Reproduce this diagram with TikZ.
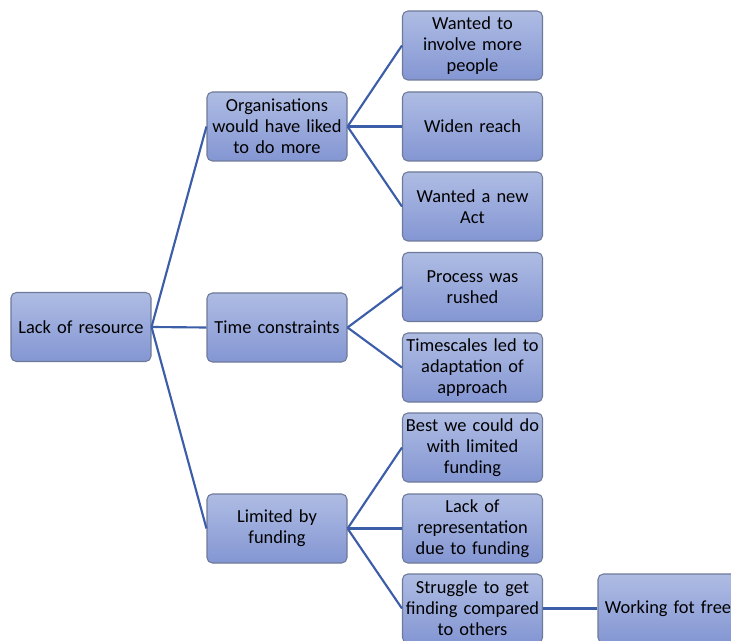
\documentclass[tikz,border=0pt]{standalone}
\usepackage{fontspec}
\setmainfont{Carlito}
\usepackage{xcolor}
\definecolor{boxtop}{HTML}{AEBCE3}
\definecolor{boxbot}{HTML}{8496D3}
\definecolor{boxedge}{HTML}{6E7A99}
\definecolor{linkblue}{HTML}{3C5DA8}

\begin{document}
\begin{tikzpicture}[x=0.75pt, y=-0.75pt,
  every node/.style={font=\fontsize{13.8}{15.75}\selectfont},
  topic/.style={draw=boxedge, line width=0.8pt, rounded corners=4pt,
    top color=boxtop, bottom color=boxbot,
    minimum width=105pt, minimum height=51.75pt, text width=105pt,
    inner sep=0pt, align=center},
  link/.style={linkblue, line width=1.6pt}]

% canvas in pixel units of the reference
\useasboundingbox (0,0) rectangle (731,641);
\clip (0,0) rectangle (731,641);

% --- Root ---
\node[topic] (res) at (81,327) {Lack of resource};

% --- Level 1 ---
\node[topic] (org)  at (277,126.5) {Organisations\\would have liked\\to do more};
\node[topic] (time) at (277,327.5) {Time constraints};
\node[topic] (fund) at (277,528.5) {Limited by\\funding};

% --- Level 2 ---
\node[topic] (inv)   at (472.5,45.5)  {Wanted to\\involve more\\people};
\node[topic] (reach) at (472.5,126.5) {Widen reach};
\node[topic] (act)   at (472.5,206.5) {Wanted a new\\Act};
\node[topic] (rush)  at (472.5,287)   {Process was\\rushed};
\node[topic] (adapt) at (472.5,367.5) {Timescales led to\\adaptation of\\approach};
\node[topic] (best)  at (472.5,447.5) {Best we could do\\with limited\\funding};
\node[topic] (repr)  at (472.5,528.5) {Lack of\\representation\\due to funding};
\node[topic] (strug) at (472.5,608.5) {Struggle to get\\finding compared\\to others};

% --- Level 3 ---
\node[topic] (free) at (668,608.5) {Working fot free};

% --- Connectors ---
\foreach \kid in {org,time,fund}
  \draw[link] (res.east) -- (\kid.west);
\foreach \kid in {inv,reach,act}
  \draw[link] (org.east) -- (\kid.west);
\foreach \kid in {rush,adapt}
  \draw[link] (time.east) -- (\kid.west);
\foreach \kid in {best,repr,strug}
  \draw[link] (fund.east) -- (\kid.west);
\draw[link] (strug.east) -- (free.west);

\end{tikzpicture}
\end{document}
